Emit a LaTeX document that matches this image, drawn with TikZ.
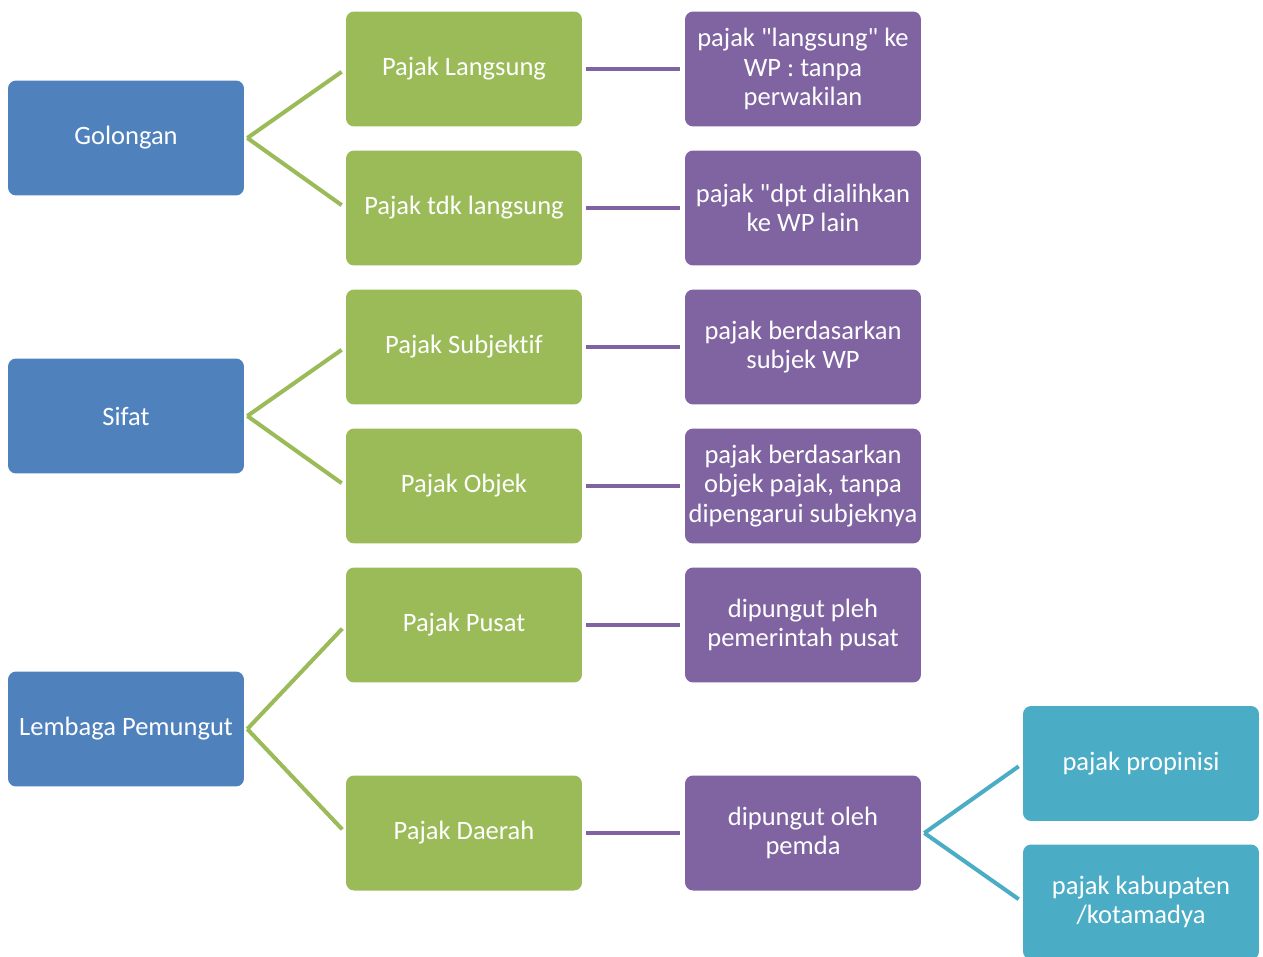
\documentclass[tikz,border=0pt]{standalone}
\usepackage{fontspec}
\setmainfont{Carlito}[Ligatures={TeXOff,NoCommon}]
\usepackage{tikz}

\definecolor{golblue}{HTML}{4F81BD}
\definecolor{jenisgreen}{HTML}{9BBB59}
\definecolor{ketpurple}{HTML}{8064A2}
\definecolor{daerahteal}{HTML}{4BACC6}

\begin{document}
\begin{tikzpicture}[x=0.02cm,y=-0.02cm,
    kotak/.style={rounded corners=0.16cm,minimum width=4.72cm,minimum height=2.3cm,
      inner sep=1pt,align=center,text=white,font=\fontsize{15.1}{16.9}\selectfont},
    gol/.style={kotak,fill=golblue},
    jenis/.style={kotak,fill=jenisgreen},
    ket/.style={kotak,fill=ketpurple},
    daerah/.style={kotak,fill=daerahteal},
    garis/.style={line width=2.3pt,shorten >=2.8pt}]
              \useasboundingbox (0,0) rectangle (1263,956);
              %\draw[help lines](0,0) grid (1263,956);
              \draw (126,138) node[gol] (gol) {Golongan};
              \draw (126,416) node[gol] (sifat) {Sifat};
              \draw (126,729) node[gol] (lembaga) {Lembaga Pemungut};

              \draw (464,69) node[jenis] (langsung) {Pajak Langsung};
              \draw (464,208) node[jenis] (tdk) {Pajak tdk langsung};
              \draw (464,347) node[jenis] (subjektif) {Pajak Subjektif};
              \draw (464,486) node[jenis] (objek) {Pajak Objek};
              \draw (464,625) node[jenis] (pusat) {Pajak Pusat};
              \draw (464,833) node[jenis] (pdaerah) {Pajak Daerah};

              \draw (803,69) node[ket] (k1) {pajak "langsung" ke\\WP : tanpa\\perwakilan};
              \draw (803,208) node[ket] (k2) {pajak "dpt dialihkan\\ke WP lain};
              \draw (803,347) node[ket] (k3) {pajak berdasarkan\\subjek WP};
              \draw (803,486) node[ket] (k4) {pajak berdasarkan\\objek pajak, tanpa\\dipengarui subjeknya};
              \draw (803,625) node[ket] (k5) {dipungut pleh\\pemerintah pusat};
              \draw (803,833) node[ket] (k6) {dipungut oleh\\pemda};

              \draw (1141,763.5) node[daerah] (prop) {pajak propinisi};
              \draw (1141,902) node[daerah] (kab) {pajak kabupaten\\/kotamadya};

              % titik cabang
              \coordinate (golc) at ([xshift=0.06cm]gol.east);
              \coordinate (sifatc) at ([xshift=0.06cm]sifat.east);
              \coordinate (lembagac) at ([xshift=0.06cm]lembaga.east);
              \coordinate (k6c) at ([xshift=0.06cm]k6.east);

              \draw[garis,jenisgreen] (golc)--(langsung.west);
              \draw[garis,jenisgreen] (golc)--(tdk.west);
              \draw[garis,jenisgreen] (sifatc)--(subjektif.west);
              \draw[garis,jenisgreen] (sifatc)--(objek.west);
              \draw[garis,jenisgreen] (lembagac)--(pusat.west);
              \draw[garis,jenisgreen] (lembagac)--(pdaerah.west);

              \draw[garis,ketpurple,shorten <=2.2pt] (langsung.east)--(k1.west);
              \draw[garis,ketpurple,shorten <=2.2pt] (tdk.east)--(k2.west);
              \draw[garis,ketpurple,shorten <=2.2pt] (subjektif.east)--(k3.west);
              \draw[garis,ketpurple,shorten <=2.2pt] (objek.east)--(k4.west);
              \draw[garis,ketpurple,shorten <=2.2pt] (pusat.east)--(k5.west);
              \draw[garis,ketpurple,shorten <=2.2pt] (pdaerah.east)--(k6.west);

              \draw[garis,daerahteal] (k6c)--(prop.west);
              \draw[garis,daerahteal] (k6c)--(kab.west);
            \end{tikzpicture}
\end{document}
